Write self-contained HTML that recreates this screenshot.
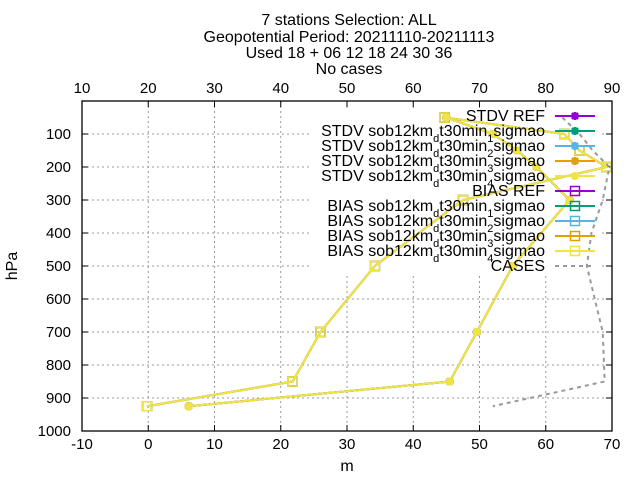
<!DOCTYPE html>
<html><head><meta charset="utf-8"><style>
body{margin:0;background:#fff}
svg{display:block;font-family:"Liberation Sans",sans-serif}
</style></head><body>
<svg id="chart" width="640" height="480" viewBox="0 0 640 480">
<g font-size="16" text-anchor="middle" fill="#000">
<text x="349" y="25">7 stations Selection: ALL</text>
<text x="349" y="42">Geopotential  Period: 20211110-20211113</text>
<text x="349" y="58">Used 18 + 06 12 18 24 30 36</text>
<text x="349" y="74">No cases</text>
</g>
<g id="grid"></g>
<g id="axes"></g>
<rect x="312" y="108" width="290" height="166" fill="#fff"/>
<g id="series"></g>
<g id="legend"></g>
<rect x="82" y="101" width="530" height="330" fill="none" stroke="#000" stroke-width="1.3"/>
<text x="347" y="471" font-size="16" text-anchor="middle">m</text>
<text x="0" y="0" font-size="16" text-anchor="middle" transform="translate(17,266) rotate(-90)">hPa</text>
</svg>
<script>
const pressures=[50,100,150,200,300,500,700,850,925];
const stdvValues=[45.0,52.0,55.7,58.6,63.6,55.0,49.6,45.5,6.1];
const biasValues=[44.7,62.8,65.1,69.2,47.5,34.2,26.0,21.8,-0.2];
const casesPressures=[50,100,150,200,300,400,500,700,850,925];
const casesValues=[82.5,85.1,87.1,89.6,88.6,86.9,86.2,88.6,88.9,72];
const xTicks=[-10,0,10,20,30,40,50,60,70];
const topTicks=[10,20,30,40,50,60,70,80,90];
const yTicks=[100,200,300,400,500,600,700,800,900,1000];
const expNames=["REF","sob12km<d>t30min<1>sigmao","sob12km<d>t30min<2>sigmao","sob12km<d>t30min<3>sigmao","sob12km<d>t30min<4>sigmao"];
const colors=["#9400d3","#009e73","#56b4e9","#e69f00","#f0e442"];

const L=82,R=612,T=101,B=431;
const xs=v=>L+(v+10)/80*(R-L);
const xt=v=>L+(v-10)/80*(R-L);
const ys=p=>T+p/1000*(B-T);
const NS="http://www.w3.org/2000/svg";
function mk(tag,attrs,parent){const e=document.createElementNS(NS,tag);for(const k in attrs)e.setAttribute(k,attrs[k]);parent.appendChild(e);return e;}
const grid=document.getElementById('grid'),axes=document.getElementById('axes'),ser=document.getElementById('series'),leg=document.getElementById('legend');

xTicks.forEach(v=>{const x=xs(v);
 if(v>-10&&v<70){const g=mk('line',{x1:x,x2:x,y1:T,y2:B,stroke:'#999','stroke-dasharray':'2,3','stroke-width':1},grid);
 
 }
 const t=mk('line',{x1:x,x2:x,y1:B,y2:B-6,stroke:'#000'},axes);
 
 
 const l=mk('text',{x:x,y:449,'font-size':15,'text-anchor':'middle'},axes);l.textContent=v;
 
 });
topTicks.forEach(v=>{const x=xt(v);
 const t=mk('line',{x1:x,x2:x,y1:T,y2:T+6,stroke:'#000'},axes);
 
 
 const l=mk('text',{x:x,y:93,'font-size':15,'text-anchor':'middle'},axes);l.textContent=v;
 
 });
yTicks.forEach(p=>{const y=ys(p);
 if(p<1000){const g=mk('line',{x1:L,x2:R,y1:y,y2:y,stroke:'#999','stroke-dasharray':'2,3','stroke-width':1},grid);
 
 }
 const t=mk('line',{x1:L,x2:L+6,y1:y,y2:y,stroke:'#000'},axes);
 
 
 const t2=mk('line',{x1:R,x2:R-6,y1:y,y2:y,stroke:'#000'},axes);
 
 
 const l=mk('text',{x:71,y:y+5,'font-size':15,'text-anchor':'end'},axes);l.textContent=p;
 
 });

function star(x,y,c,parent){return mk('path',{d:`M${x-4} ${y}H${x+4}M${x} ${y-4}V${y+4}M${x-3} ${y-3}L${x+3} ${y+3}M${x-3} ${y+3}L${x+3} ${y-3}`,stroke:c,'stroke-width':2.5,fill:'none'},parent);}
function box(x,y,c,parent){return mk('rect',{x:x-4.5,y:y-4.5,width:9,height:9,fill:'none',stroke:c,'stroke-width':1.5},parent);}

function drawSeries(vals,c,kind,name){
 const g=mk('g',{},ser);
 
 
 const pts=vals.map((v,i)=>xs(v)+','+ys(pressures[i])).join(' ');
 mk('polyline',{points:pts,fill:'none',stroke:c,'stroke-width':2},g);
 vals.forEach((v,i)=>{const m=kind==='star'?star(xs(v),ys(pressures[i]),c,g):box(xs(v),ys(pressures[i]),c,g);
  
  });
}
colors.forEach((c,i)=>drawSeries(biasValues,c,'box','bias-series-'+i));
colors.forEach((c,i)=>drawSeries(stdvValues,c,'star','stdv-series-'+i));

const cg=mk('polyline',{points:casesValues.map((v,i)=>xt(v)+','+ys(casesPressures[i])).join(' '),fill:'none',stroke:'#999','stroke-width':2,'stroke-dasharray':'4,4'},ser);



function fmt(n){return n.replace(/<(\w)>/g,'<tspan baseline-shift="sub" font-size="11">$1</tspan>');}
let row=0;
function legendRow(label,c,kind,name){
 const y=116+row*15;row++;
 const g=mk('g',{},leg);
 
 
 const t=mk('text',{x:545,y:y+5,'font-size':16,'text-anchor':'end'},g);t.innerHTML=label;
 if(kind==='dash'){mk('line',{x1:555,x2:595,y1:y,y2:y,stroke:'#999','stroke-width':2,'stroke-dasharray':'4,4'},g);}
 else{mk('line',{x1:555,x2:595,y1:y,y2:y,stroke:c,'stroke-width':2},g);
  if(kind==='star')star(575,y,c,g);else box(575,y,c,g);}
}
expNames.forEach((n,i)=>legendRow(i===0?'STDV REF':'STDV '+fmt(n),colors[i],'star','legend-stdv-'+i));
expNames.forEach((n,i)=>legendRow(i===0?'BIAS REF':'BIAS '+fmt(n),colors[i],'box','legend-bias-'+i));
legendRow('CASES','#999','dash','legend-cases');
</script>
</body></html>
